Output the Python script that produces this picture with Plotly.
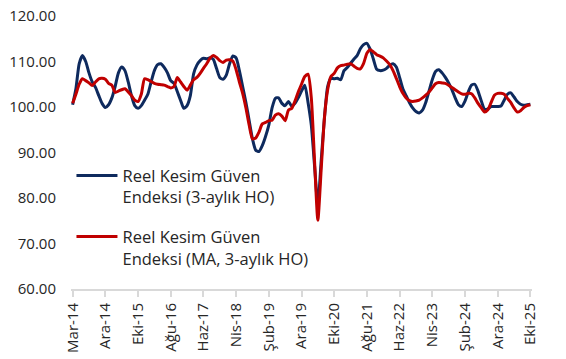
import plotly.graph_objects as go

tick_labels = ["Mar-14", "Ara-14", "Eki-15", "Ağu-16", "Haz-17", "Nis-18", "Şub-19",
               "Ara-19", "Eki-20", "Ağu-21", "Haz-22", "Nis-23", "Şub-24", "Ara-24", "Eki-25"]

reel_kesim = [
    100.5, 104.0, 109.5, 111.3, 110.0, 107.5, 105.5, 104.3, 102.5, 100.8,
    99.9, 100.5, 102.0, 104.5, 107.5, 108.8, 108.0, 105.5, 102.5, 100.3,
    99.7, 100.3, 101.5, 102.8, 105.5, 108.0, 109.3, 109.5, 108.7, 107.5,
    105.8, 105.2, 103.4, 101.5, 99.7, 100.3, 102.5, 107.3, 109.2, 110.2,
    110.7, 110.6, 110.8, 110.5, 108.5, 106.5, 106.1, 107.0, 109.5, 111.2,
    110.8, 108.0, 104.5, 101.0, 97.0, 93.0, 90.5, 90.2, 91.5, 93.5,
    96.0, 99.8, 101.9, 102.0, 100.8, 100.3, 101.2, 100.2, 100.8, 102.0,
    103.5, 104.8, 101.0, 96.0, 87.0, 78.4, 88.0, 97.5, 104.5, 106.3,
    106.2, 106.3, 106.0, 108.0, 108.7, 109.6, 110.5, 111.3, 112.8, 113.7,
    114.0, 112.7, 110.5, 108.3, 108.0, 108.1, 108.5, 109.2, 109.5, 108.8,
    106.5, 104.0, 102.5, 101.0, 99.8, 99.0, 98.7, 99.3, 101.0, 103.5,
    106.0, 107.8, 108.2, 107.5, 106.5, 105.3, 103.8, 102.0, 100.5, 100.1,
    101.3, 103.3, 104.8, 105.0, 103.5, 101.3, 99.5, 99.6, 100.1, 100.1,
    100.1, 100.2, 101.5, 102.8, 103.1, 102.2, 101.2, 100.6, 100.4, 100.5,
    100.6,
]

reel_kesim_ma = [
    100.8, 102.8, 105.0, 106.2, 105.8, 105.3, 104.7, 105.5, 106.2, 106.3,
    106.1, 105.2, 104.8, 103.2, 103.5, 103.8, 104.0, 103.3, 102.5, 101.5,
    101.2, 102.8, 106.2, 106.0, 105.6, 105.2, 105.0, 104.9, 104.8, 104.5,
    104.2, 104.5, 106.5, 105.5, 104.5, 103.7, 104.8, 106.0, 106.5, 107.4,
    108.5, 109.5, 110.7, 111.3, 110.9, 110.2, 109.8, 110.3, 110.4, 110.1,
    108.2, 105.5, 103.0, 99.8, 96.0, 93.0, 93.2, 94.5, 96.3, 96.6,
    97.0, 97.1, 98.2, 98.5, 98.0, 97.0, 99.3, 99.7, 101.3, 103.3,
    105.0, 106.7, 107.2, 102.0, 88.0, 75.1, 86.0, 97.5, 103.8, 106.7,
    107.4, 108.6, 109.1, 109.2, 109.4, 109.5, 109.0, 108.5, 108.4, 109.6,
    111.8, 112.6, 112.1, 111.5, 111.2, 110.8, 110.1, 109.3, 108.0, 106.3,
    104.5, 103.0, 102.0, 101.4, 101.2, 101.3, 101.5, 102.0, 102.6, 103.3,
    104.2, 105.1, 105.4, 105.3, 105.2, 104.8, 104.3, 103.8, 103.3, 102.9,
    102.8, 103.0, 102.9, 102.0, 100.8, 99.8, 98.9, 99.4, 101.0, 102.6,
    103.0, 103.0, 102.8, 101.9, 101.0, 99.8, 98.9, 99.2, 99.9, 100.3,
    100.5,
]

x_idx = list(range(len(reel_kesim)))
tick_pos = list(range(0, len(reel_kesim), 10))

FONT = "Open Sans"
TXT = "#262626"

fig = go.Figure()
fig.add_trace(go.Scatter(
    x=x_idx, y=reel_kesim, mode="lines",
    line=dict(color="#0E2A5E", width=3, shape="spline", smoothing=0.6),
    name="Reel Kesim Güven<br>Endeksi (3-aylık HO)", legend="legend",
    showlegend=True,
))
fig.add_trace(go.Scatter(
    x=x_idx, y=reel_kesim_ma, mode="lines",
    line=dict(color="#C00000", width=3, shape="spline", smoothing=0.6),
    name="Reel Kesim Güven<br>Endeksi (MA, 3-aylık HO)", legend="legend2",
    showlegend=True,
))

leg_common = dict(xanchor="left", yanchor="top", valign="top", itemwidth=41,
                  bgcolor="rgba(0,0,0,0)", font=dict(family=FONT, size=16.5, color=TXT))

fig.update_layout(
    width=566, height=359, showlegend=True,
    margin=dict(l=71.37, r=34.37, t=15.7, b=70.3, pad=0),
    paper_bgcolor="white", plot_bgcolor="white",
    font=dict(family=FONT, size=15, color=TXT),
    xaxis=dict(
        range=[-0.5, 140.5], tickmode="array", tickvals=tick_pos, ticktext=tick_labels,
        tickangle=-90, showgrid=False, zeroline=False, automargin=False,
        showline=True, linecolor="#D9D9D9", linewidth=2,
        ticks="outside", ticklen=6, tickcolor="#D9D9D9", tickwidth=2,
        tickfont=dict(family=FONT, size=15, color=TXT),
    ),
    yaxis=dict(
        range=[60, 120], tickmode="array", tickvals=[60, 70, 80, 90, 100, 110, 120],
        tickformat=".2f", showgrid=False, zeroline=False, showline=False, automargin=False,
        ticks="outside", ticklen=11, tickcolor="rgba(0,0,0,0)",
        tickfont=dict(family=FONT, size=15, color=TXT),
    ),
    legend=dict(x=0.001, y=0.479, **leg_common),
    legend2=dict(x=0.001, y=0.255, **leg_common),
)

fig.write_html("out.html")
